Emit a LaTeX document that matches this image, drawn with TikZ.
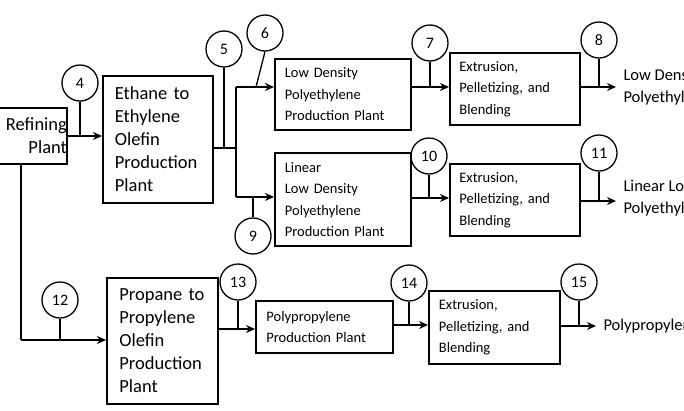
\documentclass[tikz,border=0pt]{standalone}
\usepackage{fontspec}
\setmainfont{Carlito}
\usetikzlibrary{arrows.meta}
\begin{document}
\begin{tikzpicture}[x=1pt,y=-1pt,
  box/.style={draw,line width=1.8pt,anchor=north west,inner sep=0pt,align=left},
  big/.style={font=\fontsize{18.5}{23}\selectfont},
  sm/.style={font=\fontsize{14.5}{21.5}\selectfont},
  num/.style={draw,circle,line width=1.3pt,minimum size=36pt,inner sep=0pt,font=\fontsize{16}{16}\selectfont},
  ln/.style={line width=1.8pt},
  ar/.style={ln,-{Stealth[length=9pt,width=8pt]}},
  stem/.style={line width=1.3pt},
  outtxt/.style={anchor=west,align=left,font=\fontsize{16.5}{22}\selectfont}]
\useasboundingbox (0,0) rectangle (684,410);
% boxes
\node[box,big,minimum width=146pt,minimum height=56pt,text width=146pt,align=right] (ref) at (-80,107) {Refining\hspace*{11pt}\\Plant\hspace*{19pt}};
\node[box,big,minimum width=110pt,minimum height=127pt,text width=100pt] (eth) at (102,75) {\hspace*{7pt}Ethane to\\\hspace*{7pt}Ethylene\\\hspace*{7pt}Olefin\\\hspace*{7pt}Production\\\hspace*{7pt}Plant};
\node[box,sm,minimum width=136pt,minimum height=71pt,text width=130pt] (ldpe) at (274,58) {\hspace*{7pt}Low Density\\\hspace*{7pt}Polyethylene\\\hspace*{7pt}Production Plant};
\node[box,sm,minimum width=136pt,minimum height=93pt,text width=130pt] (lldpe) at (274,152) {\hspace*{7pt}Linear\\\hspace*{7pt}Low Density\\\hspace*{7pt}Polyethylene\\\hspace*{7pt}Production Plant};
\node[box,sm,minimum width=130pt,minimum height=72pt,text width=125pt] (ext1) at (449,52) {\hspace*{7pt}Extrusion,\\\hspace*{7pt}Pelletizing, and\\\hspace*{7pt}Blending};
\node[box,sm,minimum width=130pt,minimum height=72pt,text width=125pt] (ext2) at (449,163) {\hspace*{7pt}Extrusion,\\\hspace*{7pt}Pelletizing, and\\\hspace*{7pt}Blending};
\node[box,big,minimum width=111pt,minimum height=126pt,text width=100pt] (pro) at (106,277) {\hspace*{7pt}Propane to\\\hspace*{7pt}Propylene\\\hspace*{7pt}Olefin\\\hspace*{7pt}Production\\\hspace*{7pt}Plant};
\node[box,sm,minimum width=137pt,minimum height=52pt,text width=130pt] (pp) at (255,300) {\hspace*{7pt}Polypropylene\\\hspace*{7pt}Production Plant};
\node[box,sm,minimum width=131pt,minimum height=73pt,text width=125pt] (ext3) at (428,290) {\hspace*{7pt}Extrusion,\\\hspace*{7pt}Pelletizing, and\\\hspace*{7pt}Blending};
% outputs
\node[outtxt] (o1) at (620,87) {Low Density\\Polyethylene};
\node[outtxt] (o2) at (620,198) {Linear Low Density\\Polyethylene};
\node[outtxt] (o3) at (600,326) {Polypropylene};
% circles
\node[num] (c4) at (80,83) {4};
\node[num] (c5) at (224,49) {5};
\node[num] (c6) at (265,33) {6};
\node[num] (c9) at (253,236) {9};
\node[num] (c7) at (430,43) {7};
\node[num] (c8) at (599,40) {8};
\node[num] (c10) at (429,156) {10};
\node[num] (c11) at (599,153) {11};
\node[num] (c12) at (60,300) {12};
\node[num] (c13) at (238,282) {13};
\node[num] (c14) at (409,283) {14};
\node[num] (c15) at (579,282) {15};
% coordinates
\coordinate (j) at (236,148);
\coordinate (jt) at (236,87);
\coordinate (jb) at (236,197);
\coordinate (e1) at (616,87);
\coordinate (e2) at (616,201);
\coordinate (e3) at (596,326);
\coordinate (d) at (21,163);
\coordinate (dd) at (21,340);
% connectors
\draw[ar] (ref.east |- 0,136) -- (eth.west |- 0,136);
\draw[ln] (eth.east |- j) -- (j);
\draw[ln] (jt) -- (jb);
\draw[ar] (jt) -- (ldpe.west |- jt);
\draw[ar] (jb) -- (lldpe.west |- jb);
\draw[ar] (ldpe.east |- 0,87) -- (ext1.west |- 0,87);
\draw[ar] (lldpe.east |- 0,198) -- (ext2.west |- 0,198);
\draw[ar] (ext1.east |- e1) -- (e1);
\draw[ar] (ext2.east |- e2) -- (e2);
\draw[ln] (d) -- (dd);
\draw[ar] (dd) -- (pro.west |- dd);
\draw[ar] (pro.east |- 0,329) -- (pp.west |- 0,329);
\draw[ar] (pp.east |- 0,325) -- (ext3.west |- 0,325);
\draw[ar] (ext3.east |- e3) -- (e3);
% stems
\draw[stem] (c4.south) -- (80,136);
\draw[stem] (c5.south) -- (224,148);
\draw[stem] (c6.south) -- (256,87);
\draw[stem] (c9.north) -- (253,197);
\draw[stem] (c7.south) -- (430,87);
\draw[stem] (c8.south) -- (599,87);
\draw[stem] (c10.south) -- (429,198);
\draw[stem] (c11.south) -- (599,201);
\draw[stem] (c12.south) -- (60,340);
\draw[stem] (c13.south) -- (238,329);
\draw[stem] (c14.south) -- (409,325);
\draw[stem] (c15.south) -- (579,326);
\end{tikzpicture}
\end{document}
